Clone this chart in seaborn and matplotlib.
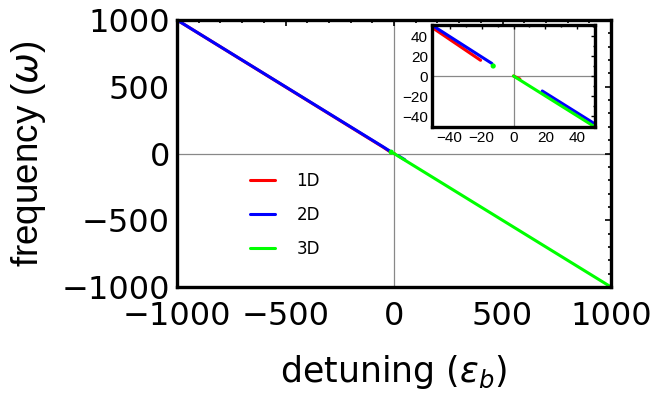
import matplotlib
matplotlib.use("Agg")
import matplotlib.pyplot as plt
import seaborn as sns
import pandas as pd
from matplotlib.lines import Line2D
from matplotlib.ticker import MultipleLocator

# ---- data ----
d1_left_x = [-1000, -50, -20.6]
d1_left_y = [1000, 47.5, 15.7]
d1_right_x = [0, 4]
d1_right_y = [0, -3]
d2_left_x = [-1000, -50, -13.5]
d2_left_y = [1000, 49.8, 12.5]
d2_right_x = [18, 50]
d2_right_y = [-15, -47]
d3_point_x = [-12.7]
d3_point_y = [10]
d3_right_x = [0, 1000]
d3_right_y = [0, -1000]

labels = ["1D", "2D", "3D"]
colors = {"1D": "#ff0000", "2D": "#0000ff", "3D": "#00ff00"}

main_ticks = [-1000, -500, 0, 500, 1000]
inset_ticks = [-40, -20, 0, 20, 40]

sns.set_style("white")
plt.rcParams["font.family"] = ["DejaVu Sans"]
plt.rcParams["text.color"] = "black"
plt.rcParams["axes.labelcolor"] = "black"
plt.rcParams["xtick.color"] = "black"
plt.rcParams["ytick.color"] = "black"
plt.rcParams["mathtext.fontset"] = "custom"
plt.rcParams["mathtext.it"] = "DejaVu Sans:italic"
plt.rcParams["mathtext.rm"] = "DejaVu Sans"

segments = [
    ("1D", d1_left_x, d1_left_y),
    ("1D", d1_right_x, d1_right_y),
    ("2D", d2_left_x, d2_left_y),
    ("2D", d2_right_x, d2_right_y),
    ("3D", d3_right_x, d3_right_y),
]

fig = plt.figure(figsize=(6.55, 4.03), dpi=100)
ax = fig.add_axes([177/655, (403-287)/403, 434/655, 267/403])
axin = fig.add_axes([432/655, (403-127)/403, 163/655, 102/403])


def draw(a, lw):
    a.axhline(0, color="#888888", lw=0.9, zorder=0)
    a.axvline(0, color="#888888", lw=0.9, zorder=0)
    for lab, xs, ys in segments:
        df = pd.DataFrame({"x": xs, "y": ys})
        sns.lineplot(data=df, x="x", y="y", ax=a, color=colors[lab], lw=lw,
                     sort=False, estimator=None, legend=False)
    dfp = pd.DataFrame({"x": d3_point_x, "y": d3_point_y})
    sns.scatterplot(data=dfp, x="x", y="y", ax=a, color=colors["3D"], s=14,
                    edgecolor="none", legend=False, zorder=5)
    for sp in a.spines.values():
        sp.set_visible(True)
        sp.set_color("black")
    a.set_xlabel("")
    a.set_ylabel("")


draw(ax, 2.2)
ax.set_xlim(-1000, 1000)
ax.set_ylim(-1000, 1000)
ax.set_xticks(main_ticks)
ax.set_yticks(main_ticks)
ax.xaxis.set_minor_locator(MultipleLocator(100))
ax.yaxis.set_minor_locator(MultipleLocator(100))
ax.tick_params(which="both", direction="in", top=True, right=True,
               labelsize=23, width=1.2)
ax.tick_params(axis="x", which="both", pad=10)
ax.tick_params(axis="y", which="both", pad=5)
ax.tick_params(which="major", length=4)
ax.tick_params(which="minor", length=2)
for sp in ax.spines.values():
    sp.set_linewidth(2.4)
ax.set_xlabel(r"detuning ($\epsilon_b$)", fontsize=25, labelpad=15)
ax.set_ylabel(r"frequency ($\omega$)", fontsize=26.5, labelpad=10,
              family=["Liberation Sans", "DejaVu Sans"])

handles = [Line2D([], [], color=colors[l], lw=2.2) for l in labels]
ax.legend(handles, labels, loc="upper left", bbox_to_anchor=(0.168, 0.43),
          frameon=False, fontsize=12, handlelength=1.5, handletextpad=1.3,
          labelspacing=0.95, borderpad=0, borderaxespad=0)

draw(axin, 2.2)
axin.set_xlim(-51, 51)
axin.set_ylim(-51, 51)
axin.set_xticks(inset_ticks)
axin.set_yticks(inset_ticks)
axin.xaxis.set_minor_locator(MultipleLocator(10))
axin.yaxis.set_minor_locator(MultipleLocator(10))
axin.tick_params(which="both", direction="in", top=True, right=True,
                 labelsize=11, width=1.0, pad=3)
axin.tick_params(which="major", length=3)
axin.tick_params(which="minor", length=1.5)
for lbl in axin.get_xticklabels() + axin.get_yticklabels():
    lbl.set_family(["Liberation Sans", "DejaVu Sans"])
for sp in axin.spines.values():
    sp.set_linewidth(2.4)

fig.savefig("out.png", dpi=100)
